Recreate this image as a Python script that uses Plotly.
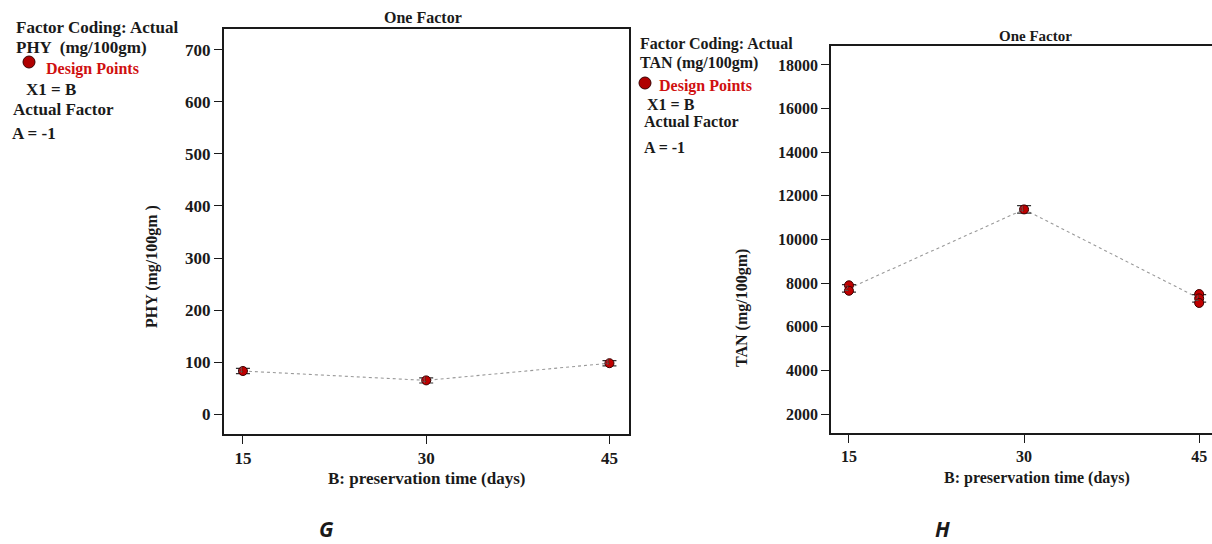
import plotly.graph_objects as go

W, H = 1212, 544

# Preservation time levels (days)
days = [15, 30, 45]

# PHY (mg/100gm): model means, LSD half-widths, design points
phy_mean = [83, 65, 98]
phy_lsd = [5, 5, 5]
phy_pts_x = [15, 30, 45]
phy_pts_y = [83, 65, 98]
phy_counts = ["4", "4", "4"]

# TAN (mg/100gm): model means, LSD half-widths, design points
tan_mean = [7760, 11380, 7300]
tan_lsd = [170, 170, 170]
tan_pts_x = [15, 15, 30, 45, 45, 45]
tan_pts_y = [7900, 7650, 11380, 7500, 7300, 7090]
tan_counts = ["2", "4", "2"]

x_ticks = [15, 30, 45]
phy_ticks = [0, 100, 200, 300, 400, 500, 600, 700]
tan_ticks = [2000, 4000, 6000, 8000, 10000, 12000, 14000, 16000, 18000]

SERIF = "Liberation Serif, Times New Roman, serif"
RED = "#c00000"
EDGE = "#3a0000"
INK = "#1a1a1a"


def px(x):
    return x / W


def py(y):
    return 1 - y / H


fig = go.Figure()


def add_panel(xa, ya, mean, lsd, ptx, pty, counts):
    # connecting line of predicted means
    fig.add_trace(go.Scatter(
        x=days, y=mean, xaxis=xa, yaxis=ya, mode="lines",
        line=dict(color="#999999", width=1.1, dash="dot"),
        showlegend=False, hoverinfo="skip"))
    # LSD bars
    fig.add_trace(go.Scatter(
        x=days, y=mean, xaxis=xa, yaxis=ya, mode="markers",
        marker=dict(size=1, color="rgba(0,0,0,0)"),
        error_y=dict(type="data", array=lsd, visible=True,
                     color="#333333", thickness=1.2, width=7),
        showlegend=False, hoverinfo="skip"))
    # design points
    fig.add_trace(go.Scatter(
        x=ptx, y=pty, xaxis=xa, yaxis=ya, mode="markers",
        marker=dict(size=9, color=RED, line=dict(color=EDGE, width=1)),
        showlegend=False))
    # replicate counts
    fig.add_trace(go.Scatter(
        x=days, y=mean, xaxis=xa, yaxis=ya, mode="text",
        text=counts, textposition="middle left",
        textfont=dict(family=SERIF, size=9, color="#555555"),
        showlegend=False, hoverinfo="skip"))


add_panel("x", "y", phy_mean, phy_lsd, phy_pts_x, phy_pts_y, phy_counts)
add_panel("x2", "y2", tan_mean, tan_lsd, tan_pts_x, tan_pts_y, tan_counts)


def axis_style(size, lw):
    return dict(showgrid=False, zeroline=False, showline=True,
                linecolor=INK, linewidth=lw, ticks="outside", ticklen=8,
                tickwidth=1.2, tickcolor=INK, tickformat="d",
                tickfont=dict(family=SERIF, size=size, color=INK, weight="bold"))


fig.update_layout(
    width=W, height=H,
    margin=dict(l=0, r=0, t=0, b=0),
    paper_bgcolor="white", plot_bgcolor="white",
    xaxis=dict(domain=[px(224), px(629)], range=[13.45, 46.6],
               tickvals=x_ticks, mirror=True, anchor="y", **axis_style(17, 2)),
    yaxis=dict(domain=[py(434), py(29)], range=[-38, 740],
               tickvals=phy_ticks, mirror=True, anchor="x", **axis_style(17, 2)),
    xaxis2=dict(domain=[px(831), 1.0], range=[13.46, 46.1],
                tickvals=x_ticks, mirror=True, anchor="y2", **axis_style(16, 1.6)),
    yaxis2=dict(domain=[py(433), py(46)], range=[1130, 18870],
                tickvals=tan_ticks, mirror=False, anchor="x2", **axis_style(16, 1.6)),
)

ann = []


def text(x, y, s, size=17, color=INK, xanchor="left", angle=0, family=SERIF):
    ann.append(dict(x=px(x), y=py(y), xref="paper", yref="paper", text=s,
                    showarrow=False, xanchor=xanchor, yanchor="middle",
                    textangle=angle,
                    font=dict(family=family, size=size, color=color)))


# left panel side notes
text(14, 27, "<b>Factor Coding: Actual</b>")
text(14, 47, "<b>PHY  (mg/100gm)</b>")
text(44, 69, "<b>Design Points</b>", size=16, color="#d01010")
text(24, 90, "<b>X1 = B</b>")
text(11, 110, "<b>Actual Factor</b>")
text(10, 133, "<b>A = -1</b>")
# right panel side notes
text(638, 44, "<b>Factor Coding: Actual</b>", size=16)
text(638, 63, "<b>TAN (mg/100gm)</b>", size=16)
text(657, 86, "<b>Design Points</b>", size=16, color="#d01010")
text(645, 104, "<b>X1 = B</b>", size=16)
text(642, 122, "<b>Actual Factor</b>", size=16)
text(642, 148, "<b>A = -1</b>", size=16)

# titles
text(423, 18, "<b>One Factor</b>", size=16, xanchor="center")
text(1035, 36, "<b>One Factor</b>", size=15, xanchor="center")
# axis titles
text(427, 478, "<b>B: preservation time (days)</b>", xanchor="center")
text(1037, 478, "<b>B: preservation time (days)</b>", size=16, xanchor="center")
text(152, 267, "<b>PHY (mg/100gm )</b>", size=16, xanchor="center", angle=-90)
text(742, 308, "<b>TAN (mg/100gm)</b>", size=16, xanchor="center", angle=-90)
# panel letters
text(326, 529, "<b><i>G</i></b>", size=21, xanchor="center",
     family="Open Sans, Liberation Sans, sans-serif")
text(942, 529, "<b><i>H</i></b>", size=21, xanchor="center",
     family="Open Sans, Liberation Sans, sans-serif")

fig.update_layout(annotations=ann)

# legend dots beside "Design Points"
shapes = []
for cx, cy in [(29, 62), (645, 83)]:
    shapes.append(dict(type="circle", xref="paper", yref="paper",
                       x0=px(cx - 6), x1=px(cx + 6), y0=py(cy + 6), y1=py(cy - 6),
                       fillcolor="#b00000", line=dict(color=EDGE, width=1)))
fig.update_layout(shapes=shapes)

fig.write_html("out.html")
